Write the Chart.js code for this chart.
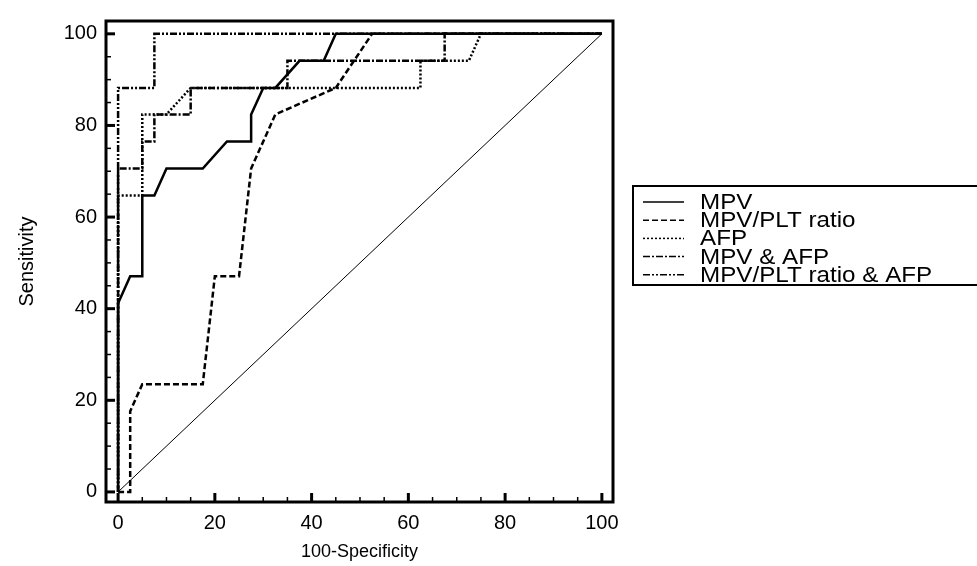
<!DOCTYPE html>
<html>
<head>
<meta charset="utf-8">
<script src="https://cdn.jsdelivr.net/npm/chart.js@4.4.1/dist/chart.umd.min.js"></script>
<style>
  html, body { margin: 0; padding: 0; background: #fff; }
</style>
</head>
<body>
<canvas id="rocChart" width="977" height="566"></canvas>
<script>
const seriesNames = ["MPV", "MPV/PLT ratio", "AFP", "MPV & AFP", "MPV/PLT ratio & AFP"];

// 100-Specificity (x) / Sensitivity (y)
const mpvX = [0, 0, 2.5, 5, 5, 7.5, 10, 17.5, 22.5, 27.5, 27.5, 30, 32.5, 37.5, 42.5, 45, 100];
const mpvY = [0, 41.2, 47.1, 47.1, 64.7, 64.7, 70.6, 70.6, 76.5, 76.5, 82.4, 88.2, 88.2, 94.1, 94.1, 100, 100];

const ratioX = [0, 2.5, 2.5, 5, 17.5, 20, 25, 27.5, 32.5, 45, 52.5, 100];
const ratioY = [0, 0, 17.6, 23.5, 23.5, 47.1, 47.1, 70.6, 82.4, 88.2, 100, 100];

const afpX = [0, 0, 5, 5, 10, 15, 62.5, 62.5, 72.5, 75, 100];
const afpY = [0, 64.7, 64.7, 82.4, 82.4, 88.2, 88.2, 94.1, 94.1, 100, 100];

const mpvAfpX = [0, 0, 5, 5, 7.5, 7.5, 15, 15, 35, 35, 67.5, 67.5, 100];
const mpvAfpY = [0, 70.6, 70.6, 76.5, 76.5, 82.4, 82.4, 88.2, 88.2, 94.1, 94.1, 100, 100];

const ratioAfpX = [0, 0, 7.5, 7.5, 100];
const ratioAfpY = [0, 88.2, 88.2, 100, 100];

const refX = [0, 100];
const refY = [0, 100];

const xTicks = [0, 20, 40, 60, 80, 100];
const yTicks = [0, 20, 40, 60, 80, 100];

const fontFamily = "'Liberation Sans', Arial, sans-serif";

function toPoints(xs, ys) {
  return xs.map((x, i) => ({ x: x, y: ys[i] }));
}

// frame box with inward tick marks on left and bottom
const frameTicks = {
  id: "frameTicks",
  afterDatasetsDraw(chart) {
    const { ctx, chartArea, scales } = chart;
    ctx.save();
    ctx.strokeStyle = "#000";
    ctx.lineCap = "butt";
    for (let v = 0; v <= 100; v += 5) {
      const major = v % 20 === 0;
      const len = major ? 9 : 5;
      ctx.lineWidth = major ? 3 : 1.5;
      const px = scales.x.getPixelForValue(v);
      ctx.beginPath();
      ctx.moveTo(px, chartArea.bottom);
      ctx.lineTo(px, chartArea.bottom - len);
      ctx.stroke();
      const py = scales.y.getPixelForValue(v);
      ctx.beginPath();
      ctx.moveTo(chartArea.left, py);
      ctx.lineTo(chartArea.left + len, py);
      ctx.stroke();
    }
    ctx.lineWidth = 3;
    ctx.strokeRect(chartArea.left, chartArea.top, chartArea.right - chartArea.left, chartArea.bottom - chartArea.top);
    ctx.restore();
  }
};

// boxed legend with tight rows
const boxLegend = {
  id: "boxLegend",
  afterDraw(chart) {
    const ctx = chart.ctx;
    const left = 633, top = 186, rowTop = 202, rowGap = 18.2;
    ctx.save();
    ctx.strokeStyle = "#000";
    ctx.lineWidth = 2;
    ctx.strokeRect(left, top, 360, 99);
    ctx.font = "22px " + fontFamily;
    ctx.fillStyle = "#000";
    ctx.textBaseline = "middle";
    chart.data.datasets.slice(0, seriesNames.length).forEach((ds, i) => {
      const y = rowTop + i * rowGap;
      ctx.setLineDash(ds.borderDash || []);
      ctx.lineWidth = 1.5;
      ctx.beginPath();
      ctx.moveTo(643, y);
      ctx.lineTo(684, y);
      ctx.stroke();
      ctx.setLineDash([]);
      // reference text runs a little wide
      ctx.save();
      ctx.translate(700, y + 1);
      ctx.scale(1.1, 1);
      ctx.fillText(ds.label, 0, 0);
      ctx.restore();
    });
    ctx.restore();
  }
};

new Chart(document.getElementById("rocChart").getContext("2d"), {
  type: "line",
  data: {
    datasets: [
      { label: seriesNames[0], data: toPoints(mpvX, mpvY), borderDash: [] },
      { label: seriesNames[1], data: toPoints(ratioX, ratioY), borderDash: [6, 3] },
      { label: seriesNames[2], data: toPoints(afpX, afpY), borderDash: [2, 2] },
      { label: seriesNames[3], data: toPoints(mpvAfpX, mpvAfpY), borderDash: [7, 2, 2, 2] },
      { label: seriesNames[4], data: toPoints(ratioAfpX, ratioAfpY), borderDash: [7, 2, 2, 2, 2, 2] },
      { label: "reference", data: toPoints(refX, refY), borderWidth: 1 }
    ]
  },
  options: {
    responsive: false,
    animation: false,
    layout: { padding: { top: 15, right: 364, left: 0, bottom: 0 } },
    plugins: {
      legend: { display: false },
      tooltip: { enabled: false }
    },
    elements: {
      point: { radius: 0 },
      line: { borderColor: "#000", borderWidth: 2.5, tension: 0, fill: false }
    },
    scales: {
      x: {
        type: "linear",
        min: -2.5,
        max: 102.3,
        afterBuildTicks: (s) => { s.ticks = xTicks.map((v) => ({ value: v })); },
        afterFit: (s) => { s.height = 64; },
        grid: { display: false, drawTicks: false },
        border: { display: false },
        ticks: { color: "#000", font: { size: 20, family: fontFamily }, padding: 9, maxRotation: 0 },
        title: { display: true, text: "100-Specificity", color: "#000", font: { size: 18, family: fontFamily }, padding: { top: 0, bottom: 3 } }
      },
      y: {
        type: "linear",
        min: -2.2,
        max: 102.8,
        afterBuildTicks: (s) => { s.ticks = yTicks.map((v) => ({ value: v })); },
        afterFit: (s) => { s.width = 106; },
        grid: { display: false, drawTicks: false },
        border: { display: false },
        ticks: { color: "#000", font: { size: 20, family: fontFamily }, padding: 9 },
        title: { display: true, text: "Sensitivity", color: "#000", font: { size: 20, family: fontFamily }, padding: { top: 15, bottom: 0 } }
      }
    }
  },
  plugins: [frameTicks, boxLegend]
});
</script>
</body>
</html>
